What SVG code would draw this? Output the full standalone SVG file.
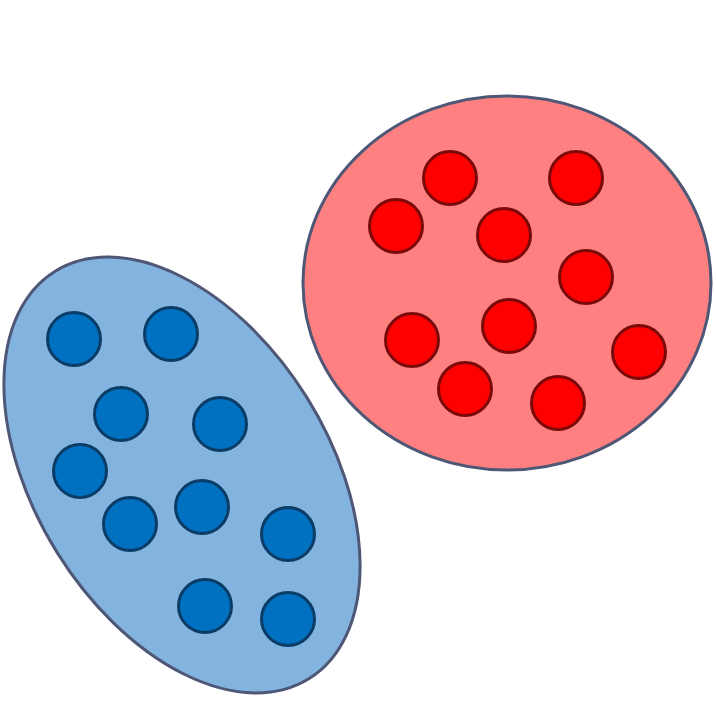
<svg xmlns="http://www.w3.org/2000/svg" width="716" height="716" viewBox="0 0 716 716">
<style>
.cluster{stroke:#4e5776;stroke-width:3}
.blue-c{fill:#82b4df}
.red-c{fill:#ff8080}
.bd{fill:#0070c0;stroke:#0b3c66;stroke-width:3}
.rd{fill:#ff0000;stroke:#7a0a0a;stroke-width:3}
</style>
<rect width="716" height="716" fill="#ffffff"/>
<g id="blue-cluster">
<ellipse class="cluster blue-c" cx="182" cy="475" rx="147" ry="240" transform="rotate(-32 182 475)"/>
<circle class="bd" cx="74" cy="339" r="26.5"/>
<circle class="bd" cx="171" cy="334" r="26.5"/>
<circle class="bd" cx="121" cy="414" r="26.5"/>
<circle class="bd" cx="220" cy="424" r="26.5"/>
<circle class="bd" cx="80" cy="471" r="26.5"/>
<circle class="bd" cx="130" cy="524" r="26.5"/>
<circle class="bd" cx="202" cy="507" r="26.5"/>
<circle class="bd" cx="288" cy="534" r="26.5"/>
<circle class="bd" cx="205" cy="606" r="26.5"/>
<circle class="bd" cx="288" cy="619" r="26.5"/>
</g>
<g id="red-cluster">
<ellipse class="cluster red-c" cx="507" cy="283" rx="204" ry="187"/>
<circle class="rd" cx="450" cy="178" r="26.5"/>
<circle class="rd" cx="576" cy="178" r="26.5"/>
<circle class="rd" cx="396" cy="226" r="26.5"/>
<circle class="rd" cx="504" cy="235" r="26.5"/>
<circle class="rd" cx="586" cy="277" r="26.5"/>
<circle class="rd" cx="509" cy="326" r="26.5"/>
<circle class="rd" cx="412" cy="340" r="26.5"/>
<circle class="rd" cx="639" cy="352" r="26.5"/>
<circle class="rd" cx="465" cy="389" r="26.5"/>
<circle class="rd" cx="558" cy="403" r="26.5"/>
</g>
<g id="connectors"></g>
</svg>
